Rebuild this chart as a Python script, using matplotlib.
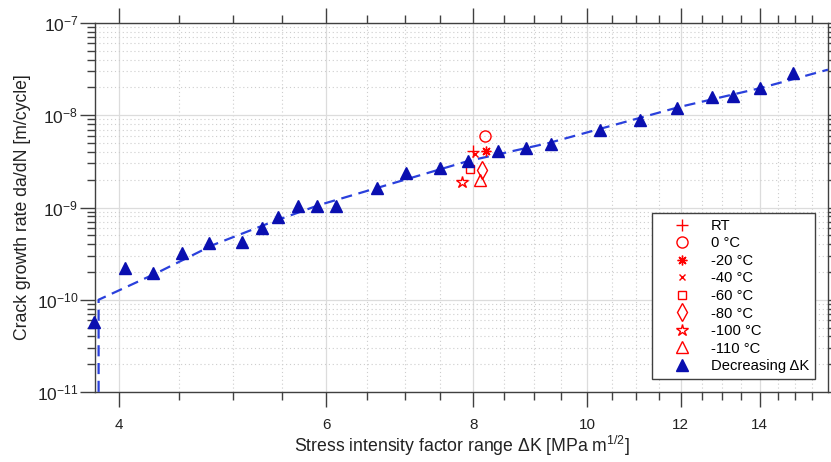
import matplotlib
matplotlib.use("Agg")
import matplotlib.pyplot as plt
from matplotlib.ticker import FixedLocator, LogLocator, NullFormatter

plt.rcParams["font.family"] = ["Liberation Sans", "DejaVu Sans"]
plt.rcParams["mathtext.fontset"] = "custom"
plt.rcParams["mathtext.rm"] = "Liberation Sans"
plt.rcParams["mathtext.it"] = "Liberation Sans:italic"
plt.rcParams["mathtext.bf"] = "Liberation Sans:bold"

# decreasing delta-K test (blue triangles)
dec_dk = [3.81, 4.05, 4.28, 4.53, 4.77, 5.09, 5.29, 5.46, 5.68, 5.89, 6.12,
          6.63, 7.02, 7.50, 7.92, 8.40, 8.87, 9.31, 10.24, 11.09, 11.92,
          12.76, 13.30, 14.02, 14.95]
dec_rate = [5.8e-11, 2.22e-10, 1.96e-10, 3.25e-10, 4.15e-10, 4.2e-10, 6.0e-10,
            7.9e-10, 1.04e-9, 1.05e-9, 1.04e-9, 1.61e-9, 2.34e-9, 2.65e-9,
            3.16e-9, 4.05e-9, 4.47e-9, 4.94e-9, 7.0e-9, 8.8e-9, 1.19e-8,
            1.57e-8, 1.61e-8, 1.96e-8, 2.85e-8]

# fitted curve (dashed)
fit_dk = [3.847, 3.847, 4.31, 4.81, 5.37, 5.92, 6.63, 7.92, 9.27, 10.24,
          11.97, 14.02, 16.0]
fit_rate = [1e-12, 1.0e-10, 1.95e-10, 3.92e-10, 6.79e-10, 1.064e-9, 1.63e-9,
            3.19e-9, 5.0e-9, 7.1e-9, 1.23e-8, 1.97e-8, 3.12e-8]

# constant amplitude tests at different temperatures (red)
temp_labels = ["RT", "0 °C", "-20 °C", "-40 °C", "-60 °C", "-80 °C",
               "-100 °C", "-110 °C"]
temp_dk = [8.00, 8.19, 8.20, 8.03, 7.95, 8.13, 7.83, 8.11]
temp_rate = [4.1e-9, 5.96e-9, 4.1e-9, 3.8e-9, 2.61e-9, 2.55e-9, 1.89e-9, 1.99e-9]
temp_markers = ["+", "o", (8, 2, 0), "x", "s", "d", "*", "^"]
temp_sizes = [8, 8, 7, 5, 5.5, 9, 9, 8]

x_major = [4, 6, 8, 10, 12, 14]
x_minor = [4.5, 5, 5.5, 6.5, 7, 7.5, 8.5, 9, 9.5, 10.5, 11, 11.5, 12.5, 13,
           13.5, 14.5, 15, 15.5]

fig = plt.figure(figsize=(8.31, 4.62), dpi=100)
ax = fig.add_axes([95 / 831, 1 - 392 / 462, 733 / 831, 369 / 462])
ax.set_xscale("log")
ax.set_yscale("log")

ax.plot(fit_dk, fit_rate, ls=(0, (5, 3)), color="#2a40dc", lw=1.6, zorder=3)
for lab, xv, yv, m, ms in zip(temp_labels, temp_dk, temp_rate, temp_markers, temp_sizes):
    ax.plot([xv], [yv], ls="none", marker=m, ms=ms, mec="red", mfc="none",
            mew=1.0, label=lab, zorder=4, clip_on=False)
ax.plot(dec_dk, dec_rate, ls="none", marker="^", ms=8, color="#0a0fb0",
        label="Decreasing ΔK", zorder=5, clip_on=False)

ax.set_xlim(3.82, 16)
ax.set_ylim(1e-11, 1e-7)

ax.set_xticks(x_major, [str(v) for v in x_major])
ax.xaxis.set_minor_locator(FixedLocator(x_minor))
ax.xaxis.set_minor_formatter(NullFormatter())
ax.yaxis.set_major_locator(FixedLocator([1e-11, 1e-10, 1e-9, 1e-8, 1e-7]))
ax.yaxis.set_minor_locator(LogLocator(base=10, subs=range(2, 10), numticks=20))
ax.yaxis.set_minor_formatter(NullFormatter())

ax.tick_params(which="both", direction="out", top=True, right=True,
               color="#404040", width=1.0, labelcolor="#222222")
ax.tick_params(which="major", length=11, pad=8)
ax.tick_params(axis="x", which="major", labelsize=11)
ax.tick_params(axis="y", which="major", pad=1, labelsize=12.5)
ax.tick_params(which="minor", length=6)

ax.grid(True, which="major", color="#dcdcdc", lw=0.9, ls="-", zorder=0)
ax.grid(True, which="minor", color="#cdcdcd", lw=0.8, ls=(0, (1, 2.5)), zorder=0)
ax.set_axisbelow(True)
for s in ax.spines.values():
    s.set_color("#404040")
    s.set_linewidth(1.0)

ax.set_xlabel("Stress intensity factor range ΔK [MPa m$^{1/2}$]", fontsize=12.7,
              color="#222222", labelpad=1)
ax.set_ylabel("Crack growth rate da/dN [m/cycle]", fontsize=12.7,
              color="#222222", labelpad=4)

leg = ax.legend(loc="lower right", bbox_to_anchor=(0.9823, 0.0352),
                borderaxespad=0, fontsize=10.6, frameon=True, fancybox=False,
                edgecolor="#404040", framealpha=1, handlelength=3.3,
                handletextpad=0.3, borderpad=0.4, labelspacing=0.24,
                numpoints=1)
leg.get_frame().set_linewidth(1.0)

fig.savefig("out.png", dpi=100)
